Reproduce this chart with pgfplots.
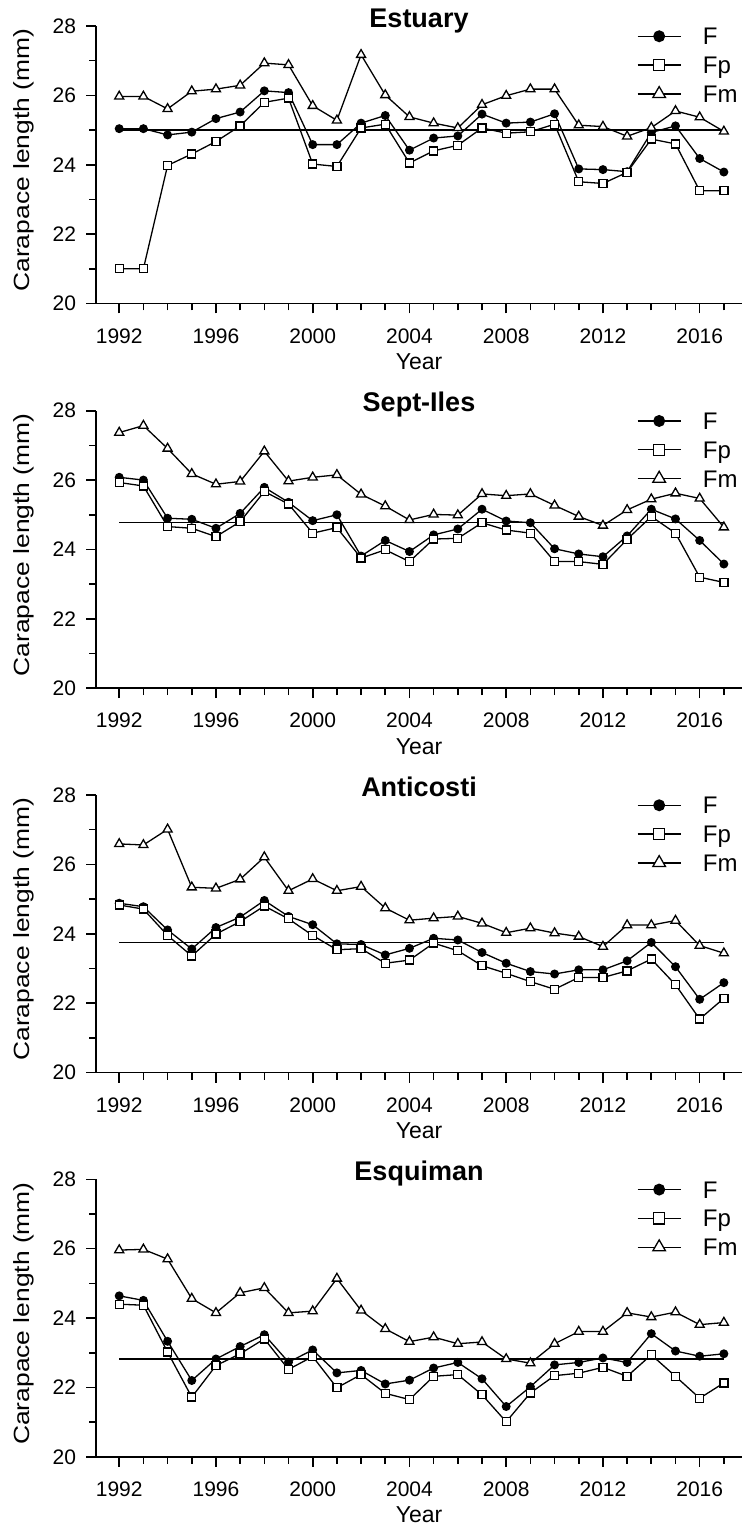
\documentclass[border=0pt]{standalone}
\usepackage{fontspec}
\setmainfont{Liberation Sans}
\usepackage{graphicx}
\usepackage{pgfplots}
\usepackage{pgfplotstable}
\pgfplotsset{compat=1.18}

\pgfplotstableread{
year F Fp Fm
1992 25.04 21.00 25.97
1993 25.04 21.00 25.97
1994 24.86 23.98 25.61
1995 24.94 24.31 26.12
1996 25.33 24.67 26.18
1997 25.52 25.12 26.29
1998 26.13 25.80 26.93
1999 26.08 25.92 26.88
2000 24.58 24.02 25.70
2001 24.58 23.95 25.28
2002 25.20 25.06 27.17
2003 25.42 25.17 26.01
2004 24.42 24.05 25.38
2005 24.77 24.40 25.20
2006 24.83 24.56 25.06
2007 25.46 25.06 25.73
2008 25.20 24.91 25.99
2009 25.23 24.95 26.18
2010 25.47 25.17 26.18
2011 23.88 23.51 25.14
2012 23.86 23.46 25.10
2013 23.80 23.78 24.82
2014 24.93 24.74 25.07
2015 25.12 24.60 25.55
2016 24.18 23.25 25.37
2017 23.79 23.25 24.96
}\estuary

\pgfplotstableread{
year F Fp Fm
1992 26.08 25.93 27.37
1993 26.00 25.83 27.57
1994 24.90 24.66 26.91
1995 24.87 24.61 26.18
1996 24.61 24.37 25.88
1997 25.04 24.80 25.96
1998 25.79 25.67 26.83
1999 25.36 25.31 25.97
2000 24.83 24.47 26.08
2001 25.00 24.63 26.15
2002 23.81 23.75 25.59
2003 24.26 23.99 25.25
2004 23.94 23.65 24.85
2005 24.42 24.30 25.01
2006 24.59 24.32 24.99
2007 25.16 24.77 25.60
2008 24.82 24.56 25.55
2009 24.77 24.47 25.60
2010 24.02 23.65 25.27
2011 23.87 23.65 24.95
2012 23.79 23.57 24.69
2013 24.39 24.29 25.14
2014 25.16 24.95 25.45
2015 24.88 24.47 25.62
2016 24.26 23.20 25.47
2017 23.58 23.05 24.64
}\septiles

\pgfplotstableread{
year F Fp Fm
1992 24.88 24.83 26.59
1993 24.78 24.71 26.56
1994 24.11 23.95 27.01
1995 23.56 23.36 25.34
1996 24.18 23.99 25.31
1997 24.48 24.35 25.57
1998 24.96 24.80 26.21
1999 24.50 24.43 25.24
2000 24.26 23.95 25.58
2001 23.71 23.54 25.24
2002 23.69 23.57 25.36
2003 23.39 23.15 24.74
2004 23.58 23.24 24.39
2005 23.87 23.73 24.45
2006 23.82 23.51 24.50
2007 23.46 23.08 24.30
2008 23.15 22.86 24.03
2009 22.91 22.62 24.16
2010 22.84 22.40 24.02
2011 22.96 22.74 23.92
2012 22.96 22.74 23.63
2013 23.22 22.93 24.25
2014 23.75 23.27 24.25
2015 23.05 22.53 24.38
2016 22.11 21.54 23.66
2017 22.59 22.14 23.44
}\anticosti

\pgfplotstableread{
year F Fp Fm
1992 24.64 24.40 25.96
1993 24.51 24.37 25.98
1994 23.33 23.02 25.70
1995 22.20 21.72 24.56
1996 22.82 22.63 24.15
1997 23.18 22.97 24.73
1998 23.52 23.40 24.87
1999 22.73 22.52 24.15
2000 23.08 22.89 24.20
2001 22.42 21.99 25.14
2002 22.49 22.37 24.22
2003 22.10 21.83 23.69
2004 22.21 21.65 23.32
2005 22.56 22.32 23.45
2006 22.72 22.37 23.26
2007 22.25 21.79 23.31
2008 21.45 21.01 22.82
2009 22.02 21.84 22.70
2010 22.65 22.34 23.26
2011 22.72 22.41 23.61
2012 22.85 22.58 23.61
2013 22.72 22.32 24.15
2014 23.55 22.94 24.03
2015 23.05 22.32 24.17
2016 22.90 21.69 23.81
2017 22.97 22.13 23.87
}\esquiman

\pgfplotsset{
  panel/.style={
    scale only axis, width=323pt, height=138.75pt,
    anchor=north west,
    xmin=1991.04, xmax=2017.75, ymin=20, ymax=28,
    axis x line*=bottom, axis y line*=left,
    xtick={1992,1996,...,2016}, minor xtick={1993,...,2017},
    ytick={20,22,...,28}, minor ytick={21,23,25,27},
    tick align=outside, major tick length=5pt, minor tick length=3.5pt,
    every tick/.style={black, line width=0.8pt},
    axis line style={line width=0.9pt},
    tick label style={font=\fontsize{10.5}{12}\selectfont},
    xticklabel style={yshift=-4pt},
    yticklabel style={xshift=-1.5pt},
    /pgf/number format/assume math mode=true,
    /pgf/number format/1000 sep={},
    xlabel={Year},
    xlabel style={at={([yshift=-33pt]axis description cs:0.5,0)}, anchor=base, font=\fontsize{11.5}{13}\selectfont},
    ylabel={\scalebox{1.2}[1]{Carapace length (mm)}},
    ylabel style={at={([xshift=-33.25pt,yshift=2.25pt]axis description cs:0,0.5)}, anchor=base, font=\fontsize{11}{13}\selectfont},
    title style={at={(axis description cs:0.5,1)}, anchor=base, yshift=-6.5pt, font=\bfseries\fontsize{13.5}{16}\selectfont},
    legend style={draw=none, fill=none, inner sep=0pt, outer sep=0pt,
      at={(axis description cs:0.8375,0.994)}, anchor=north west,
      font=\fontsize{12}{14}\selectfont, row sep=5.8pt,
      nodes={text height=8.6pt, text depth=0pt, inner ysep=0pt, inner xsep=10.8pt},
      cells={anchor=west}},
    legend image code/.code={\draw[mark repeat=2, mark phase=2, #1, every mark/.append style={scale=1.4}] plot coordinates {(0pt,0pt) (10.75pt,0pt) (21.5pt,0pt)};},
    clip=false,
  },
  sF/.style={black, line width=0.65pt, mark=*, mark size=1.9pt, mark options={fill=black, solid}},
  sFp/.style={black, line width=0.65pt, mark=square*, mark size=2pt, mark options={fill=white, solid}},
  sFm/.style={black, line width=0.65pt, mark=triangle*, mark size=2.6pt, mark options={fill=white, solid}},
  smean/.style={black, line width=0.75pt, no marks, forget plot},
}

\begin{document}
\begin{tikzpicture}
\begin{axis}[panel, at={(48pt,-13pt)}, title={Estuary}]
  \addplot[smean] coordinates {(1992,25.00) (2017,25.00)};
  \addplot[sF] table[x=year, y=F] {\estuary};
  \addplot[sFp] table[x=year, y=Fp] {\estuary};
  \addplot[sFm] table[x=year, y=Fm] {\estuary};
  \legend{F, Fp, Fm}
\end{axis}
\begin{axis}[panel, at={(48pt,-205.35pt)}, title={Sept-Iles}]
  \addplot[smean] coordinates {(1992,24.77) (2017,24.77)};
  \addplot[sF] table[x=year, y=F] {\septiles};
  \addplot[sFp] table[x=year, y=Fp] {\septiles};
  \addplot[sFm] table[x=year, y=Fm] {\septiles};
  \legend{F, Fp, Fm}
\end{axis}
\begin{axis}[panel, at={(48pt,-397.5pt)}, title={Anticosti}]
  \addplot[smean] coordinates {(1992,23.75) (2017,23.75)};
  \addplot[sF] table[x=year, y=F] {\anticosti};
  \addplot[sFp] table[x=year, y=Fp] {\anticosti};
  \addplot[sFm] table[x=year, y=Fm] {\anticosti};
  \legend{F, Fp, Fm}
\end{axis}
\begin{axis}[panel, at={(48pt,-589.65pt)}, title={Esquiman}]
  \addplot[smean] coordinates {(1992,22.82) (2017,22.82)};
  \addplot[sF] table[x=year, y=F] {\esquiman};
  \addplot[sFp] table[x=year, y=Fp] {\esquiman};
  \addplot[sFm] table[x=year, y=Fm] {\esquiman};
  \legend{F, Fp, Fm}
\end{axis}
\pgfresetboundingbox
\path (0,0) rectangle (371pt,-762.5pt);
\end{tikzpicture}
\end{document}
